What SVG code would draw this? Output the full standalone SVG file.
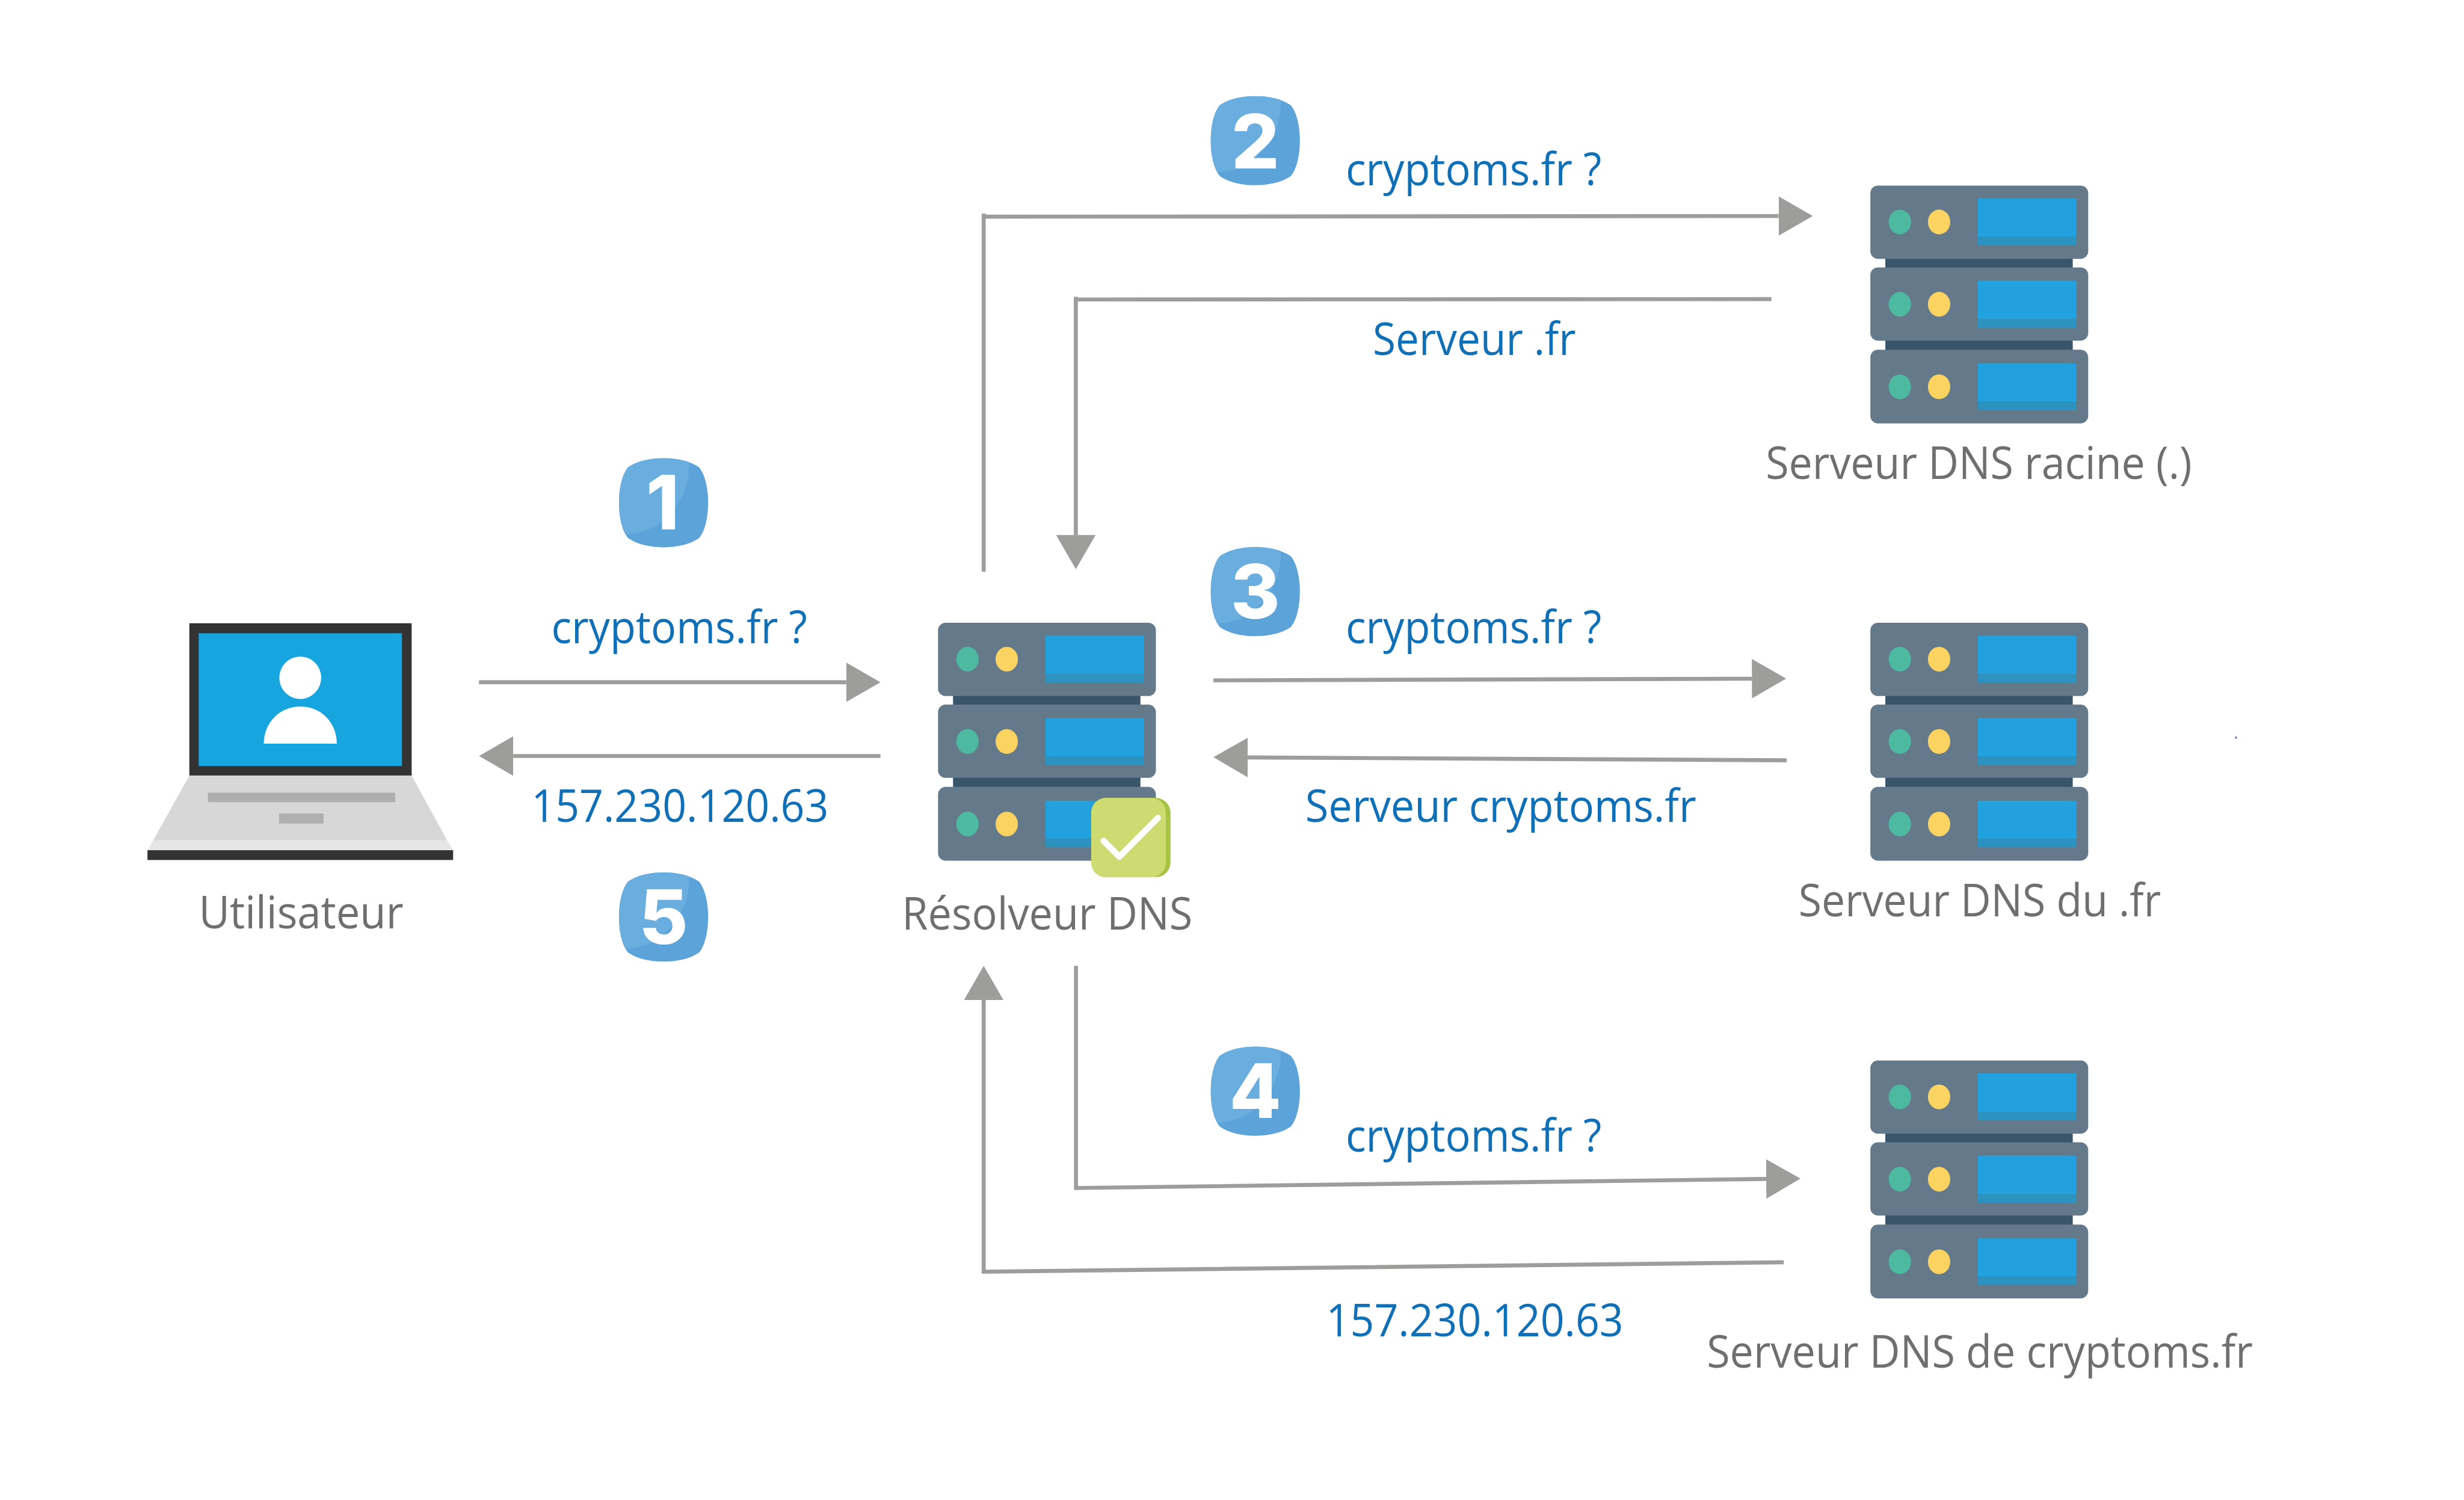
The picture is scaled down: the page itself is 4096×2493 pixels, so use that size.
<svg xmlns="http://www.w3.org/2000/svg" xmlns:xlink="http://www.w3.org/1999/xlink" width="4096" height="2493" viewBox="0 0 4096 2493">
<style>
.t{font-family:"Open Sans","Noto Sans","Liberation Sans",sans-serif;font-size:94px}
.b{fill:#0F70B7}
.g{fill:#706F6F}
.n{font-family:Inter,"Liberation Sans",sans-serif;font-size:158px;font-weight:800;fill:#fff;text-anchor:middle}
.u{fill:#64798A}
.c{fill:#3A556A}
.s{fill:#21A1DD}
.sb{fill:#2C92BF}
.gr{fill:#4CB9A0}
.ye{fill:#FBD360}
.l{fill:none;stroke:#9D9D9C;stroke-width:8.4;stroke-linejoin:miter}
.a{marker-end:url(#head)}
</style>
<defs>
<marker id="head" markerUnits="userSpaceOnUse" markerWidth="74" markerHeight="86" refX="0" refY="43" orient="auto" viewBox="0 0 74 86"><path d="M0,1.5 L72,43 L0,84.5Z" fill="#9D9D9C"/></marker>
<path id="squircle" d="M0,-93.7 C27,-93.7 55,-88 74,-75 C86,-62 93.7,-33 93.7,0 C93.7,33 86,62 74,75 C55,88 27,93.7 0,93.7 C-27,93.7 -55,88 -74,75 C-86,62 -93.7,33 -93.7,0 C-93.7,-33 -86,-62 -74,-75 C-55,-88 -27,-93.7 0,-93.7Z"/>
<clipPath id="sq"><use xlink:href="#squircle"/></clipPath>
<g id="badge">
<use xlink:href="#squircle" fill="#5BA3D9"/>
<path clip-path="url(#sq)" d="M53.3,-85 C58,-33 20,63 -80,66.7 L-100,66 L-100,-100 L53,-100Z" fill="#6AADDF"/>
</g>
<g id="server">
<rect class="c" x="31.5" y="150" width="394" height="26"/>
<rect class="c" x="31.5" y="322" width="394" height="27"/>
<rect class="u" width="458" height="154" rx="16"/>
<rect class="u" y="172" width="458" height="154" rx="16"/>
<rect class="u" y="345" width="458" height="155" rx="16"/>
<rect class="s" x="226" y="27" width="207" height="81"/><rect class="sb" x="226" y="108" width="207" height="18"/>
<rect class="s" x="226" y="200" width="207" height="81"/><rect class="sb" x="226" y="281" width="207" height="18"/>
<rect class="s" x="226" y="374" width="207" height="80"/><rect class="sb" x="226" y="454" width="207" height="18"/>
<ellipse class="gr" cx="62" cy="76.5" rx="23.5" ry="26"/><ellipse class="ye" cx="144.5" cy="76.5" rx="23.5" ry="26"/>
<ellipse class="gr" cx="62" cy="249.5" rx="23.5" ry="26"/><ellipse class="ye" cx="144.5" cy="249.5" rx="23.5" ry="26"/>
<ellipse class="gr" cx="62" cy="423" rx="23.5" ry="26"/><ellipse class="ye" cx="144.5" cy="423" rx="23.5" ry="26"/>
</g>
</defs>
<rect width="4096" height="2493" fill="#fff"/>
<g transform="scale(0.79073)">
<g id="connectors">
<path class="l a" d="M1007,1434 H1779"/>
<path class="l a" d="M1851,1589 H1079"/>
<path class="l a" d="M2068,1201.8 V449 M2064,455.5 L3739,454"/>
<path class="l a" d="M3724,628.7 L2258,629.5 M2261.7,623.8 V1124.5"/>
<path class="l a" d="M2551,1430 L3683,1426.5"/>
<path class="l a" d="M3756,1598 L2623,1592"/>
<path class="l a" d="M2262,2030 V2497 L3713,2478"/>
<path class="l a" d="M3750,2653 L2068,2673 V2102"/>
</g>
<g id="user">
<rect x="398" y="1310" width="467.4" height="320" fill="#333"/>
<rect x="417.7" y="1331" width="427.3" height="279" fill="#16A5DF"/>
<ellipse cx="631.2" cy="1424.5" rx="44" ry="44.6" fill="#fff"/>
<path d="M554.6,1563 C554.6,1519 588,1485 631.3,1485 C675,1485 708,1519 708,1563Z" fill="#fff"/>
<path d="M398,1630 H865.4 L940,1766.5 H322Z" fill="#D7D7D7"/>
<path d="M322,1766.5 H940 L952.6,1787 H310Z" fill="#E6E6E6"/>
<rect x="437" y="1666" width="394" height="20" fill="#AFAFAF"/>
<rect x="586.7" y="1710" width="93.6" height="21" fill="#AFAFAF"/>
<rect x="310" y="1787" width="642.6" height="20.6" fill="#333"/>
<text class="t g" x="418" y="1951" textLength="430" lengthAdjust="spacingAndGlyphs">Utilisateur</text>
</g>
<g id="resolver">
<use xlink:href="#server" x="1972" y="1309"/>
<rect x="2294" y="1677" width="166.7" height="166.7" rx="31" fill="#A6C344"/>
<path d="M2294,1708 a31,31 0 0 1 31,-31 H2420 a31,31 0 0 1 31,31 V1812.7 a31,31 0 0 1 -31,31 H2325 a31,31 0 0 1 -31,-31Z" fill="#CDDB70"/>
<path d="M2320,1767.3 L2353.3,1800.7 L2434,1719.3" fill="none" stroke="#fff" stroke-width="13" stroke-linecap="round" stroke-linejoin="round"/>
<text class="t g" x="1896" y="1954" textLength="611" lengthAdjust="spacingAndGlyphs">Résolveur DNS</text>
</g>
<g id="root-server">
<use xlink:href="#server" x="3932" y="390"/>
<text class="t g" x="3712" y="1007" textLength="896" lengthAdjust="spacingAndGlyphs">Serveur DNS racine (.)</text>
</g>
<g id="fr-server">
<use xlink:href="#server" x="3932" y="1309"/>
<text class="t g" x="3781" y="1926" textLength="762" lengthAdjust="spacingAndGlyphs">Serveur DNS du .fr</text>
</g>
<g id="cryptoms-server">
<use xlink:href="#server" x="3932" y="2229"/>
<text class="t g" x="3588" y="2875" textLength="1148" lengthAdjust="spacingAndGlyphs">Serveur DNS de cryptoms.fr</text>
</g>
<g id="step-1"><use xlink:href="#badge" x="1395" y="1056.7"/><text class="n" x="1393" y="1113">1</text></g>
<g id="step-2"><use xlink:href="#badge" x="2639" y="295.6"/><text class="n" x="2639" y="354">2</text></g>
<g id="step-3"><use xlink:href="#badge" x="2639" y="1243.5"/><text class="n" x="2639" y="1300">3</text></g>
<g id="step-4"><use xlink:href="#badge" x="2639" y="2293.5"/><text class="n" x="2639" y="2350">4</text></g>
<g id="step-5"><use xlink:href="#badge" x="1395" y="1927.5"/><text class="n" x="1395" y="1984">5</text></g>
<g id="labels">
<text class="t b" x="1159" y="1352" textLength="538" lengthAdjust="spacingAndGlyphs">cryptoms.fr ?</text>
<text class="t b" x="1117" y="1728" textLength="625" lengthAdjust="spacingAndGlyphs">157.230.120.63</text>
<text class="t b" x="2829" y="390" textLength="538" lengthAdjust="spacingAndGlyphs">cryptoms.fr ?</text>
<text class="t b" x="2886" y="746" textLength="427" lengthAdjust="spacingAndGlyphs">Serveur .fr</text>
<text class="t b" x="2829" y="1352" textLength="538" lengthAdjust="spacingAndGlyphs">cryptoms.fr ?</text>
<text class="t b" x="2744" y="1728" textLength="822" lengthAdjust="spacingAndGlyphs">Serveur cryptoms.fr</text>
<text class="t b" x="2829" y="2420" textLength="538" lengthAdjust="spacingAndGlyphs">cryptoms.fr ?</text>
<text class="t b" x="2788" y="2809" textLength="625" lengthAdjust="spacingAndGlyphs">157.230.120.63</text>
</g>
<ellipse cx="4700.7" cy="1550.3" rx="1.8" ry="2.5" fill="#3D4FC4"/>
</g>
</svg>
